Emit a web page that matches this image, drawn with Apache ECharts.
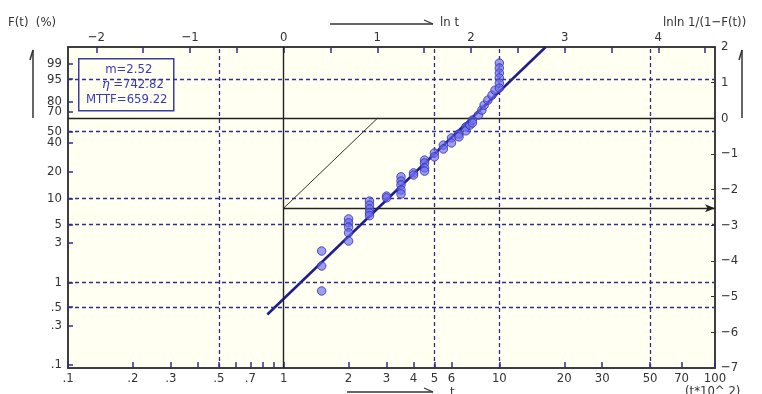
<!DOCTYPE html>
<html>
<head>
<meta charset="utf-8">
<script src="https://cdn.jsdelivr.net/npm/echarts@6/dist/echarts.min.js"></script>
<style>
  html, body { margin: 0; padding: 0; background: #fff; }
  #chart { width: 762px; height: 394px; }
</style>
</head>
<body>
<div id="chart"></div>
<script>
// times in units of 10^2 h, and plotted lnln 1/(1-F) values
const failT = [
  1.5, 1.5, 1.5,
  2, 2, 2, 2, 2,
  2.5, 2.5, 2.5, 2.5, 2.5,
  3, 3,
  3.5, 3.5, 3.5, 3.5, 3.5,
  4, 4,
  4.5, 4.5, 4.5, 4.5,
  5, 5,
  5.5, 5.5,
  6, 6,
  6.5, 6.5,
  7, 7,
  7.3,
  7.5, 7.5,
  8, 8.3, 8.5, 8.85, 9.25, 9.55,
  10, 10, 10, 10, 10, 10
];
const failY = [
  -3.72, -4.14, -4.84,
  -2.82, -2.93, -3.05, -3.21, -3.44,
  -2.32, -2.43, -2.54, -2.65, -2.73,
  -2.18, -2.23,
  -1.64, -1.76, -1.87, -2.01, -2.12,
  -1.53, -1.59,
  -1.17, -1.25, -1.39, -1.48,
  -0.97, -1.08,
  -0.75, -0.86,
  -0.55, -0.69,
  -0.44, -0.52,
  -0.24, -0.35,
  -0.19,
  -0.05, -0.13,
  0.09, 0.23, 0.37, 0.51, 0.65, 0.79,
  1.55, 1.41, 1.27, 1.13, 0.99, 0.85
];

// fitted line end points (t, lnln)
const fitT = [0.84, 16.4];
const fitY = [-5.5, 2];

// parameters shown in the box
const mValue = '2.52';
const etaValue = '742.82';
const mttfValue = '659.22';

// m estimation construction
const constructT = [1, 2.71828];
const constructY = [-2.52, 0];

// bottom axis (t)
const tTicks = [0.1, 0.2, 0.3, 0.4, 0.5, 0.6, 0.7, 0.8, 0.9, 1, 2, 3, 4, 5, 6, 10, 20, 30, 50, 70, 100];
const tLabels = [0.1, 0.2, 0.3, 0.5, 0.7, 1, 2, 3, 4, 5, 6, 10, 20, 30, 50, 70, 100];
const tLabelText = ['.1', '.2', '.3', '.5', '.7', '1', '2', '3', '4', '5', '6', '10', '20', '30', '50', '70', '100'];
const tGrid = [0.5, 5, 10, 50];

// top axis (ln t)
const lnTicks = [-2, -1.5, -1, -0.5, 0, 0.5, 1, 1.5, 2, 2.5, 3, 3.5, 4, 4.5];
const lnLabels = [-2, -1, 0, 1, 2, 3, 4];

// left axis F(t) %
const fLabels = [99, 95, 80, 70, 50, 40, 20, 10, 5, 3, 1, 0.5, 0.3, 0.1];
const fLabelText = ['99', '95', '80', '70', '50', '40', '20', '10', '5', '3', '1', '.5', '.3', '.1'];
const fGrid = [95, 50, 10, 5, 1, 0.5];

const FONT = '"DejaVu Sans Condensed", "Liberation Sans Narrow", "Noto Sans CJK JP", sans-serif';
const TEXT = '#333333';
const BLUE = '#2e2e8a';
const BG = '#fffff2';

const lg = (t) => Math.log10(t);
const lnln = (f) => Math.log(-Math.log(1 - f / 100));

function lookup(values, texts) {
    const map = {};
    values.forEach((v, i) => { map[v.toFixed(4)] = texts[i]; });
    return (v) => map[Number(v).toFixed(4)] ?? '';
}

const tLabelVals = tLabels.map(lg);
const fLabelVals = fLabels.map(lnln);
const tFmt = lookup(tLabelVals, tLabelText);
const fFmt = lookup(fLabelVals, fLabelText);

const LN10 = Math.log(10);

const gridLines = [
    ...fGrid.map((f) => ({ yAxis: lnln(f) })),
    ...tGrid.map((t) => ({ xAxis: lg(t) })),
];

const blackLines = [
    { yAxis: 0 },
    { xAxis: 0 },
];

const minus = (v) => (v < 0 ? '\u2212' + (-v) : String(v));

const chart = echarts.init(document.getElementById('chart'));

const option = {
    animation: false,
    textStyle: { fontFamily: FONT },
    grid: {
        left: 68, right: 47, top: 47, bottom: 26,
        show: true,
        backgroundColor: BG,
        borderColor: '#333',
        borderWidth: 1.5,
    },
    xAxis: [
        {
            type: 'value',
            position: 'bottom',
            min: -1,
            max: 2,
            axisLine: { show: true, onZero: false, lineStyle: { color: '#333', width: 1.5 } },
            axisTick: {
                show: true, inside: true, length: 6,
                customValues: tTicks.map(lg),
                lineStyle: { color: BLUE, width: 1.5 },
            },
            axisLabel: {
                customValues: tLabelVals,
                formatter: tFmt,
                color: TEXT, fontSize: 13, margin: 4, fontFamily: FONT,
            },
            splitLine: { show: false },
        },
        {
            type: 'value',
            position: 'top',
            min: -LN10,
            max: 2 * LN10,
            axisLine: { show: true, onZero: false, lineStyle: { color: '#333', width: 1.5 } },
            axisTick: {
                show: true, inside: true, length: 6,
                customValues: lnTicks,
                lineStyle: { color: BLUE, width: 1.5 },
            },
            axisLabel: {
                customValues: lnLabels,
                formatter: minus,
                color: TEXT, fontSize: 13, margin: 3, fontFamily: FONT,
            },
            splitLine: { show: false },
        },
    ],
    yAxis: [
        {
            type: 'value',
            position: 'left',
            min: -7,
            max: 2,
            axisLine: { show: true, onZero: false, lineStyle: { color: '#333', width: 1.5 } },
            axisTick: {
                show: true, inside: true, length: 5,
                customValues: fLabelVals,
                lineStyle: { color: BLUE, width: 1.5 },
            },
            axisLabel: {
                customValues: fLabelVals,
                formatter: fFmt,
                color: TEXT, fontSize: 13, margin: 6, fontFamily: FONT,
            },
            splitLine: { show: false },
        },
        {
            type: 'value',
            position: 'right',
            min: -7,
            max: 2,
            interval: 1,
            axisLine: { show: true, onZero: false, lineStyle: { color: '#333', width: 1.5 } },
            axisTick: { show: true, inside: true, length: 4, lineStyle: { color: '#333', width: 1 } },
            axisLabel: {
                formatter: minus,
                color: TEXT, fontSize: 13, margin: 6, fontFamily: FONT,
            },
            splitLine: { show: false },
        },
    ],
    series: [
        {
            name: 'grid',
            type: 'line',
            xAxisIndex: 0,
            yAxisIndex: 1,
            data: [],
            z: 1,
            silent: true,
            markLine: {
                silent: true,
                symbol: 'none',
                label: { show: false },
                lineStyle: { color: BLUE, type: [4, 3], width: 1.3 },
                data: gridLines,
            },
        },
        {
            name: 'axes0',
            type: 'line',
            xAxisIndex: 0,
            yAxisIndex: 1,
            data: [],
            z: 2,
            silent: true,
            markLine: {
                silent: true,
                symbol: 'none',
                label: { show: false },
                lineStyle: { color: '#222', type: 'solid', width: 1.4 },
                data: [
                    ...blackLines,
                    [
                        { coord: [lg(constructT[0]), constructY[0]], lineStyle: { color: '#333', width: 1 } },
                        { coord: [lg(constructT[1]), constructY[1]] },
                    ],
                    [
                        { coord: [lg(constructT[0]), constructY[0]], symbol: 'none' },
                        { coord: [2, constructY[0]], symbol: 'arrow', symbolSize: [6, 10] },
                    ],
                ],
            },
        },
        {
            name: 'fit',
            type: 'line',
            xAxisIndex: 0,
            yAxisIndex: 1,
            data: fitT.map((t, i) => [lg(t), fitY[i]]),
            showSymbol: false,
            lineStyle: { color: '#1d1d8e', width: 2.5 },
            z: 4,
        },
        {
            name: 'failures',
            type: 'scatter',
            xAxisIndex: 0,
            yAxisIndex: 1,
            data: failT.map((t, i) => [lg(t), failY[i]]),
            symbol: 'circle',
            symbolSize: 8.5,
            itemStyle: { color: 'rgba(105,105,240,0.82)', borderColor: '#3030aa', borderWidth: 1 },
            z: 5,
        },
    ],
    graphic: [
        { type: 'text', left: 8, top: 16, style: { text: 'F(t)  (%)', fill: TEXT, font: '13px ' + FONT } },
        { type: 'line', shape: { x1: 33, y1: 118, x2: 33, y2: 50 }, style: { stroke: '#333', lineWidth: 1.5 } },
        { type: 'line', shape: { x1: 33, y1: 50, x2: 30, y2: 60 }, style: { stroke: '#333', lineWidth: 1.5 } },
        { type: 'line', shape: { x1: 742, y1: 118, x2: 742, y2: 50 }, style: { stroke: '#333', lineWidth: 1.5 } },
        { type: 'line', shape: { x1: 742, y1: 50, x2: 739, y2: 60 }, style: { stroke: '#333', lineWidth: 1.5 } },
        { type: 'line', shape: { x1: 330, y1: 24, x2: 433, y2: 24 }, style: { stroke: '#333', lineWidth: 1.3 } },
        { type: 'line', shape: { x1: 433, y1: 24, x2: 424, y2: 20 }, style: { stroke: '#333', lineWidth: 1.3 } },
        { type: 'text', left: 440, top: 16, style: { text: 'ln t', fill: TEXT, font: '13px ' + FONT } },
        { type: 'text', left: 663, top: 16, style: { text: 'lnln 1/(1\u2212F(t))', fill: TEXT, font: '13px ' + FONT } },
        { type: 'line', shape: { x1: 347, y1: 392, x2: 433, y2: 392 }, style: { stroke: '#333', lineWidth: 1.3 } },
        { type: 'line', shape: { x1: 433, y1: 392, x2: 424, y2: 388 }, style: { stroke: '#333', lineWidth: 1.3 } },
        { type: 'text', left: 450, top: 386, style: { text: 't', fill: TEXT, font: '13px ' + FONT } },
        { type: 'text', left: 685, top: 385, style: { text: '(t*10^ 2)', fill: TEXT, font: '13px ' + FONT } },
        {
            type: 'group', left: 78, top: 58, z: 10,
            children: [
                { type: 'rect', shape: { x: 0, y: 0, width: 95, height: 52 }, style: { fill: BG, stroke: '#3a3aa8', lineWidth: 1.5 } },
                { type: 'text', x: 50, y: 4, style: { text: 'm=' + mValue, fill: '#3838c0', font: '13px ' + FONT, align: 'center' } },
                {
                    type: 'text', x: 54, y: 19,
                    style: {
                        text: '{g|\u03b7} =' + etaValue,
                        fill: '#3838c0', font: '13px ' + FONT, align: 'center',
                        rich: { g: { fontStyle: 'italic', fill: '#3838c0', fontSize: 13, fontFamily: 'DejaVu Serif' } },
                    },
                },
                { type: 'text', x: 48, y: 34, style: { text: 'MTTF=' + mttfValue, fill: '#3838c0', font: '13px ' + FONT, align: 'center' } },
            ],
        },
    ],
};

chart.setOption(option);
</script>
</body>
</html>
